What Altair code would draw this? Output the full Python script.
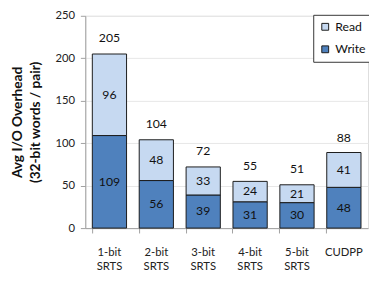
import altair as alt
import pandas as pd

categories = ["1-bit SRTS", "2-bit SRTS", "3-bit SRTS", "4-bit SRTS", "5-bit SRTS", "CUDPP"]
write_vals = [109, 56, 39, 31, 30, 48]
read_vals = [96, 48, 33, 24, 21, 41]
totals = [205, 104, 72, 55, 51, 88]
series = ["Read", "Write"]
colors = ["#C6D9F1", "#4F81BD"]
FONT = "Lato"

rows = []
for c, w, r in zip(categories, write_vals, read_vals):
    rows.append({"cat": c, "series": "Write", "value": w, "ord": 0})
    rows.append({"cat": c, "series": "Read", "value": r, "ord": 1})
df = pd.DataFrame(rows)
tot = pd.DataFrame({"cat": categories, "total": totals})

xenc = alt.X("cat:N", sort=categories, title=None,
             scale=alt.Scale(paddingInner=0.27, paddingOuter=0.15),
             axis=alt.Axis(labelExpr="split(datum.label, ' ')", labelAngle=0,
                           bandPosition=0, tickSize=5, labelPadding=14,
                           labelLineHeight=14, domainColor="#a0a0a0",
                           tickColor="#a0a0a0", labelFontSize=11.5,
                           labelColor="#222222", labelFont=FONT))

bars = alt.Chart(df).mark_bar(stroke="#1a1a1a", strokeWidth=1).encode(
    x=xenc,
    y=alt.Y("value:Q", stack="zero",
            scale=alt.Scale(domain=[0, 250], nice=False),
            axis=alt.Axis(values=[0, 50, 100, 150, 200, 250], tickSize=5,
                          labelPadding=6, domainColor="#a0a0a0",
                          tickColor="#a0a0a0", gridColor="#e6e6e6",
                          labelFontSize=11.5, labelColor="#222222", labelFont=FONT,
                          title=["Avg I/O Overhead", "(32-bit words / pair)"],
                          titleFont=FONT, titleFontSize=14, titleFontWeight="bold",
                          titleColor="#111111", titlePadding=13, titleLineHeight=18)),
    color=alt.Color("series:N", scale=alt.Scale(domain=series, range=colors),
                    legend=alt.Legend(title=None, orient="none", legendX=233, legendY=-1,
                                      symbolType="square", symbolSize=49,
                                      symbolStrokeColor="#1a1a1a", symbolStrokeWidth=1,
                                      symbolOpacity=1,
                                      labelFont=FONT, labelFontSize=12.5, labelColor="#111111",
                                      rowPadding=10, padding=6, strokeColor="#333333",
                                      fillColor="white", cornerRadius=0)),
    order=alt.Order("ord:Q"),
)

seg_text = alt.Chart(df).transform_stack(
    stack="value", groupby=["cat"], as_=["y0", "y1"], sort=[alt.SortField("ord")]
).transform_calculate(mid="(datum.y0 + datum.y1) / 2").mark_text(
    font=FONT, fontSize=12.5, color="#111111", baseline="middle"
).encode(x=alt.X("cat:N", sort=categories), y=alt.Y("mid:Q"), text="value:Q")

tot_text = alt.Chart(tot).mark_text(
    font=FONT, fontSize=12.5, color="#111111", baseline="middle", dy=-16
).encode(x=alt.X("cat:N", sort=categories), y=alt.Y("total:Q"), text="total:Q")

chart = alt.layer(bars, seg_text, tot_text).properties(
    width=289, height=217,
    autosize=alt.AutoSizeParams(type="none"),
    padding={"left": 79, "top": 5, "right": 1, "bottom": 46},
).configure_view(stroke=None).configure(background="white")

chart.save("out.html", embed_options={"renderer": "svg", "actions": False})
